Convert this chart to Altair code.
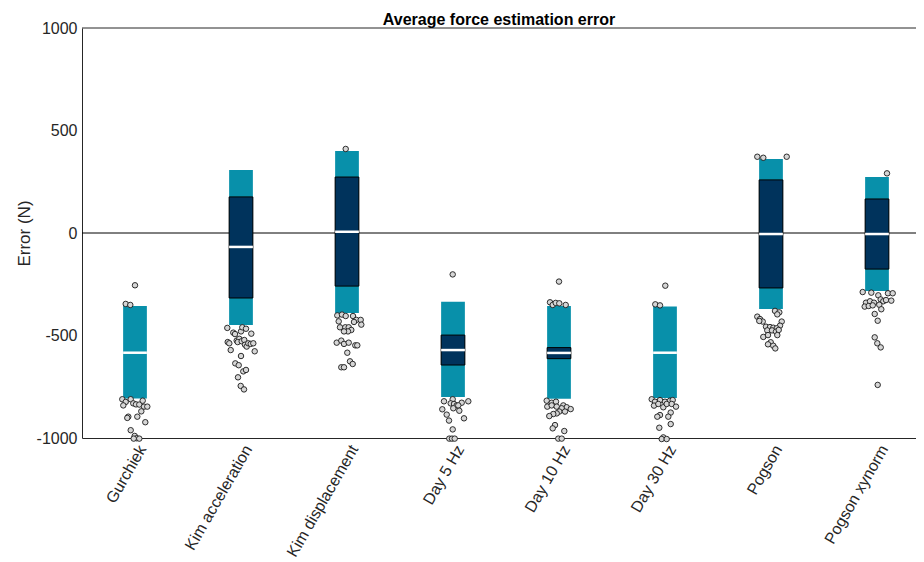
import json
import altair as alt
import pandas as pd

categories = ["Gurchiek", "Kim acceleration", "Kim displacement", "Day 5 Hz",
              "Day 10 Hz", "Day 30 Hz", "Pogson", "Pogson xynorm"]

range_low = [-807, -449, -390, -800, -808, -805, -371, -283]
range_high = [-356, 307, 400, -335, -356, -359, 361, 273]
iqr_low = [None, -317, -259, -644, -613, None, -268, -176]
iqr_high = [None, 176, 273, -498, -559, None, 259, 166]
median = [-584, -68, 6, -571, -585, -584, -5, -5]

# outlier points: horizontal jitter (hundredths of a category ~ px) and error value
gurchiek_jit = [0, -9.3, -4.7, -12.7, -9.3, -4.3, -1.7, 1, 4.3, 7.7, 9, 12.3, -11.7, -6.7,
                -7.7, 2.3, 6.3, 10.3, -4.3, -0.3, 1.7, 4.3, -1.3]
gurchiek_val = [-255, -346, -351, -811, -824, -811, -831, -836, -837, -818, -847, -847, -841,
                -896, -902, -896, -870, -923, -962, -990, -1001, -1003, -1003]

kimacc_jit = [-13.7, -7.7, -6, 0, 1.3, 5, 10.3, -13.3, -11.7, -4.3, -1.7, -3.3, 0.7, 3.3, 4,
              5.7, 7.3, 9.7, 12.3, -10.3, 13.7, 0, -5.7, -2.3, 2.3, 5, -3, -0.3, 3]
kimacc_val = [-463, -486, -493, -480, -460, -467, -491, -532, -538, -525, -516, -532, -528,
              -522, -545, -554, -538, -541, -538, -571, -577, -600, -636, -645, -675, -668,
              -704, -746, -763]

kimdisp_jit = [-1.3, -9.7, -5, -1.3, 6, 9.3, 13.7, -8.3, 7, 14.3, -7, -1.7, 1.7, 4.3, 1, -3,
               -10.3, -5.7, -3, 1.7, 8.3, 10.3, 0.3, 3, 5.7, -5.7, -3]
kimdisp_val = [410, -402, -398, -405, -405, -424, -424, -431, -434, -447, -460, -460, -460,
               -473, -480, -480, -535, -525, -541, -535, -548, -548, -584, -626, -639, -655,
               -655]

day5_jit = [-0.3, -0.3, -2.3, 1, 3.7, 8.7, 15.3, -9, -10.7, -6.3, 0.3, 5.3, 6.3, -4, 11,
            -0.3, -3.7, -1, 1.7]
day5_val = [-202, -811, -831, -834, -841, -828, -821, -821, -860, -886, -855, -841, -867,
            -915, -904, -958, -1003, -1003, -1003]

day10_jit = [0, -9, -6.3, -3.3, 0.3, 6.7, -12.3, -7.3, -3, -11.7, -7.3, -2.3, 4.3, 7.7,
             11.7, 2.7, 0.3, -2.3, -5.7, -9.7, 6, -4, -6.3, 5.3, -0.7, 2.7]
day10_val = [-237, -338, -351, -341, -343, -351, -818, -828, -823, -847, -841, -847, -841,
             -850, -859, -855, -871, -880, -883, -893, -871, -937, -953, -966, -1003, -1003]

day30_jit = [0.3, -9.7, -5, -13.3, -10, -5, 0, 5, 7.7, -11, -6.7, -1.7, 1.7, 6.7, 11, 5.7,
             3.3, -5, -7.7, 5.7, -5.7, -1.7, -3.3, 1.7]
day30_val = [-257, -348, -353, -811, -823, -815, -823, -818, -815, -842, -834, -850, -834,
             -834, -847, -876, -896, -888, -896, -932, -950, -997, -1005, -1005]

pogson_jit = [-13.7, -7.7, 15.7, 4, 8.3, 6.3, -13.7, -11, -8.3, -11.7, 10.7, 9, -5, -1, 2.3,
              5.7, -3.7, 1, 5, 7.7, 6.3, -7.7, -3, -0.3, -3, 2.3, 4.3]
pogson_val = [372, 367, 372, -380, -387, -397, -408, -420, -432, -429, -432, -452, -457,
              -459, -462, -465, -475, -475, -481, -473, -498, -507, -498, -533, -543, -550,
              -563]

xynorm_jit = [10, -14.3, -5.7, 1.3, 11, 15.7, 3.7, 6.3, 9, 14.3, -11, -7, -3, -12.3, -8.3,
              -4.3, 2.3, 4.3, -2.3, 0.7, -2.3, 0.3, 3.7, 0.7]
xynorm_val = [291, -288, -291, -304, -294, -294, -324, -333, -327, -330, -340, -333, -340,
              -359, -356, -353, -350, -372, -395, -428, -509, -538, -558, -741]

point_jit = [gurchiek_jit, kimacc_jit, kimdisp_jit, day5_jit, day10_jit, day30_jit,
             pogson_jit, xynorm_jit]
point_val = [gurchiek_val, kimacc_val, kimdisp_val, day5_val, day10_val, day30_val,
             pogson_val, xynorm_val]

TEAL = "#0890aa"
NAVY = "#00335c"
FONT = "Liberation Sans"
TEXT = "#262626"

summary = pd.DataFrame({
    "idx": list(range(len(categories))),
    "category": categories,
    "range_low": range_low,
    "range_high": range_high,
    "iqr_low": iqr_low,
    "iqr_high": iqr_high,
    "median": median,
})

rows = []
for i, (js, vs) in enumerate(zip(point_jit, point_val)):
    for j, v in zip(js, vs):
        rows.append({"idx": i, "jitter": j, "error": v})
points = pd.DataFrame(rows)

half = 0.112
x_domain = [-0.5, -0.5 + 834 / 106]
xscale = alt.Scale(domain=x_domain, nice=False, zero=False)
yscale = alt.Scale(domain=[-1000, 1000], nice=False)

label_expr = json.dumps(categories) + "[datum.value]"

x_axis = alt.Axis(values=list(range(len(categories))), labelExpr=label_expr, labelAngle=-60,
                  labelAlign="right", labelBaseline="top", labelFontSize=16,
                  labelPadding=4, ticks=False, grid=False, domain=True,
                  domainColor=TEXT, title=None, labelFont=FONT, labelColor=TEXT)
y_axis = alt.Axis(values=[-1000, -500, 0, 500, 1000], labelExpr="'' + datum.value",
                  labelFontSize=16, ticks=False, grid=False, domain=True, domainColor=TEXT,
                  title="Error (N)", titleFontSize=17, titleFontWeight="normal",
                  titleX=-49, titleY=205, titleAngle=-90, titleAlign="center",
                  titleBaseline="bottom",
                  labelPadding=5, labelFont=FONT, titleFont=FONT,
                  labelColor=TEXT, titleColor=TEXT)

base = alt.Chart(summary).transform_calculate(
    xl=f"datum.idx - {half}", xr=f"datum.idx + {half}"
)

zero_line = alt.Chart(pd.DataFrame({"y": [0]})).mark_rule(color="black", strokeWidth=1).encode(
    y=alt.Y("y:Q", scale=yscale, axis=y_axis)
)
top_line = alt.Chart(pd.DataFrame({"y": [1000]})).mark_rule(color=TEXT, strokeWidth=1).encode(
    y=alt.Y("y:Q", scale=yscale)
)

range_bars = base.mark_rect(color=TEAL).encode(
    x=alt.X("xl:Q", scale=xscale, axis=x_axis),
    x2="xr:Q",
    y=alt.Y("range_low:Q", scale=yscale),
    y2="range_high:Q",
)

iqr_bars = base.transform_filter("isValid(datum.iqr_low)").mark_rect(
    color=NAVY, stroke="black", strokeWidth=1
).encode(
    x=alt.X("xl:Q", scale=xscale),
    x2="xr:Q",
    y=alt.Y("iqr_low:Q", scale=yscale),
    y2="iqr_high:Q",
)

median_lines = base.mark_rule(color="white", strokeWidth=2.5).encode(
    x=alt.X("xl:Q", scale=xscale),
    x2="xr:Q",
    y=alt.Y("median:Q", scale=yscale),
)

dots = alt.Chart(points).transform_calculate(
    xp="datum.idx + datum.jitter / 106"
).mark_circle(size=30, fill="#d6d6d6", stroke="#1a1a1a", strokeWidth=0.9, opacity=1).encode(
    x=alt.X("xp:Q", scale=xscale),
    y=alt.Y("error:Q", scale=yscale),
)

chart = alt.layer(zero_line, top_line, range_bars, iqr_bars, median_lines, dots).properties(
    width=834,
    height=410,
    autosize=alt.AutoSizeParams(type="none"),
    padding={"left": 74, "top": 20, "right": 0, "bottom": 124},
    title=alt.TitleParams("Average force estimation error", fontSize=16, fontWeight="bold",
                          anchor="middle", frame="group", offset=5, dy=13, font=FONT,
                          color="black"),
).configure_view(stroke=None)

chart.save("out.html", embed_options={"renderer": "svg", "actions": False})
